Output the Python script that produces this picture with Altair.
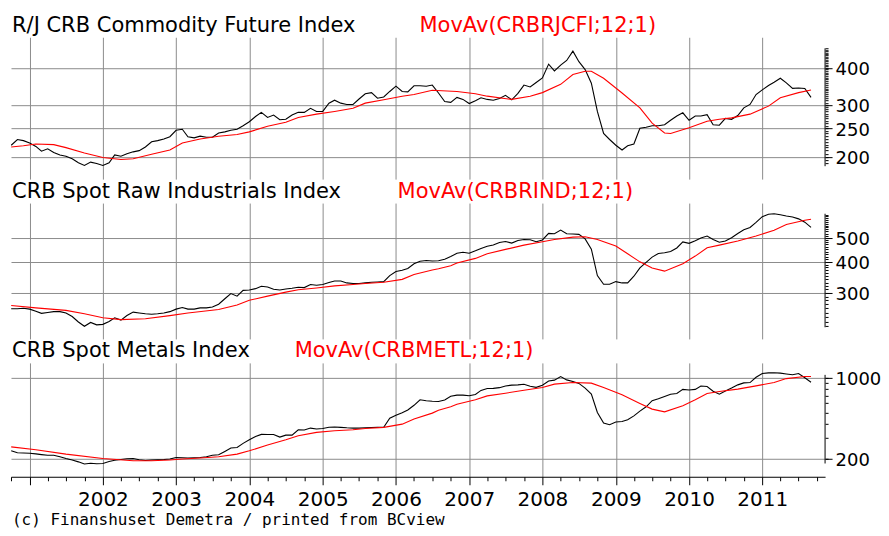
import altair as alt
import pandas as pd

# ---------------- data (monthly, first point Oct 2000) ----------------
START = "2000-10-01"
N_MONTHS = 132

rj_vals = [219, 229, 227, 223, 217, 209, 213, 207, 203, 201,
           197, 191, 187, 192, 190, 187, 191, 203, 201, 205,
           208, 210, 216, 225, 227, 230, 234, 246, 248, 234,
           232, 235, 233, 233, 241, 243, 246, 248, 255, 263,
           274, 283, 272, 277, 267, 268, 277, 283, 283, 292,
           285, 285, 304, 311, 304, 301, 301, 314, 327, 330,
           316, 319, 333, 347, 333, 332, 348, 348, 347, 350,
           329, 308, 306, 318, 313, 303, 310, 317, 313, 311,
           315, 323, 312, 328, 350, 345, 357, 370, 412, 391,
           409, 424, 456, 420, 395, 355, 285, 240, 229, 219,
           211, 218, 221, 250, 252, 255, 255, 257, 266, 275,
           282, 266, 275, 275, 278, 257, 256, 270, 268, 276,
           293, 301, 325, 337, 349, 358, 369, 356, 341, 342, 341, 318]
rj_ma_idx = [0, 2, 4, 7, 9, 12, 15, 18, 20, 23, 26, 28, 31, 34, 37, 39, 42, 45, 47, 50,
             53, 56, 58, 61, 64, 66, 69, 73, 76, 78, 82, 85, 87, 90, 92, 94, 95, 97, 100,
             103, 105, 107, 108, 111, 114, 116, 118, 121, 124, 126, 129, 131]
rj_ma_vals = [216, 218, 221, 220, 215, 206, 199, 196, 197, 204, 211, 223, 230, 235, 238, 243,
              254, 262, 272, 279, 285, 292, 304, 312, 321, 325, 336, 333, 327, 321, 313, 321,
              330, 352, 380, 390, 390, 369, 329, 293, 260, 241, 240, 251, 264, 268, 271, 279,
              297, 317, 330, 337]

ind_vals = [259, 259, 260, 258, 253, 248, 250, 252, 252, 249,
            241, 229, 220, 228, 223, 224, 230, 238, 233, 243,
            251, 249, 247, 246, 247, 249, 252, 258, 262, 258,
            258, 261, 261, 263, 270, 284, 298, 291, 307, 308,
            312, 319, 317, 310, 308, 311, 313, 316, 315, 324,
            322, 324, 330, 335, 335, 329, 327, 327, 329, 331,
            332, 333, 352, 366, 370, 376, 393, 402, 405, 403,
            404, 410, 420, 433, 437, 433, 443, 453, 462, 468,
            479, 483, 476, 488, 492, 491, 482, 490, 521, 519,
            537, 519, 518, 516, 495, 450, 352, 325, 325, 333,
            329, 329, 350, 378, 398, 418, 432, 435, 440, 455,
            481, 475, 486, 499, 508, 492, 480, 485, 500, 520,
            539, 550, 577, 608, 622, 625, 619, 612, 606, 596, 578, 551]
ind_ma_idx = [0, 4, 9, 12, 15, 18, 22, 26, 29, 34, 37, 39, 42, 45, 47, 50, 53, 56, 58, 61,
              64, 66, 69, 70, 72, 73, 76, 78, 81, 84, 87, 89, 92, 94, 96, 99, 101, 103, 105,
              107, 110, 112, 114, 116, 119, 122, 125, 127, 130, 131]
ind_ma_vals = [267, 261, 255, 247, 238, 234, 236, 243, 249, 257, 268, 280, 291, 302, 309, 314,
               320, 324, 327, 331, 340, 356, 371, 375, 386, 396, 413, 431, 449, 467, 482, 492,
               503, 505, 492, 463, 431, 400, 378, 367, 393, 422, 456, 467, 485, 508, 536, 566,
               588, 594]

met_vals = [233, 224, 223, 222, 219, 216, 213, 213, 207, 200,
            194, 187, 179, 182, 180, 181, 188, 193, 196, 199,
            200, 195, 192, 194, 195, 196, 198, 204, 203, 202,
            203, 204, 207, 213, 215, 230, 246, 249, 270, 290,
            310, 323, 322, 322, 306, 318, 318, 354, 352, 366,
            360, 363, 372, 374, 371, 368, 366, 366, 368, 370,
            371, 372, 445, 472, 497, 525, 576, 643, 630, 624,
            622, 641, 690, 705, 705, 696, 715, 775, 805, 807,
            818, 845, 860, 864, 875, 840, 823, 858, 935, 950,
            1020, 955, 926, 890, 810, 720, 500, 405, 391, 413,
            417, 432, 467, 513, 559, 632, 655, 686, 718, 728,
            790, 780, 790, 845, 838, 763, 719, 765, 812, 865,
            900, 905, 1005, 1085, 1098, 1102, 1093, 1075, 1058, 1083, 995, 912]
met_ma_idx = [0, 4, 9, 15, 20, 23, 26, 28, 31, 34, 37, 39, 42, 45, 47, 50, 53, 56, 58, 61,
              64, 66, 69, 70, 72, 73, 76, 78, 81, 84, 87, 89, 92, 95, 97, 100, 103, 105, 107,
              110, 112, 114, 116, 119, 122, 125, 127, 130, 131]
met_ma_vals = [252, 238, 218, 200, 191, 191, 194, 198, 202, 207, 218, 233, 261, 290, 314, 336,
               347, 354, 363, 371, 396, 438, 493, 523, 559, 589, 642, 695, 733, 778, 820, 877,
               906, 895, 820, 709, 597, 534, 506, 570, 642, 728, 757, 794, 848, 906, 980, 1020,
               1020]

titles_black = ["R/J CRB Commodity Future Index", "CRB Spot Raw Industrials Index", "CRB Spot Metals Index"]
titles_red = ["MovAv(CRBRJCFI;12;1)", "MovAv(CRBRIND;12;1)", "MovAv(CRBMETL;12;1)"]
footer = "(c) Finanshuset Demetra  / printed from BCview"

# ---------------- layout ----------------
W = 815
FONT = "DejaVu Sans"
GRID = "#8c8c8c"
months = pd.date_range(START, periods=N_MONTHS, freq="MS")


def dt(y, m=1, d=1):
    return alt.DateTime(year=y, month=m, date=d)


x_scale = alt.Scale(domain=[dt(2000, 9, 30), dt(2011, 11, 10)], nice=False)
year_vals = [dt(y) for y in range(2001, 2012)]
quarter_vals = [dt(2000, 10)] + [dt(y, m) for y in range(2001, 2012) for m in (4, 7, 10)]


def panel(vals, ma_idx, ma_vals, ydom, H, minor_vals, major_vals, ext, tb, tr, red_x, bottom=False):
    df = pd.DataFrame({"date": months, "value": vals})
    dm = pd.DataFrame({"date": months[ma_idx], "value": ma_vals})
    ys = alt.Scale(type="log", domain=ydom, nice=False)
    y_major = alt.Axis(
        orient="right", values=major_vals, title=None, domain=False,
        grid=True, gridColor=GRID, tickColor="black", tickSize=7, format="d",
        labelFont=FONT, labelFontSize=18, labelColor="black", labelPadding=3,
        labelOverlap=False, labelOffset=2,
    )
    y_minor = alt.Axis(
        orient="right", values=minor_vals, title=None, domain=False, grid=False,
        labels=False, tickColor="black", tickSize=3,
    )
    if bottom:
        x_major = alt.Axis(
            orient="bottom", values=year_vals, title=None, grid=True, gridColor=GRID,
            domain=True, domainColor="black", tickColor="black", tickSize=8,
            labelExpr="year(datum.value) >= 2002 ? timeFormat(datum.value, '%Y') : ''",
            labelFont=FONT, labelFontSize=20, labelColor="black", labelPadding=5,
            labelOverlap=False, labelFlush=False,
        )
        x_minor = alt.Axis(
            orient="bottom", values=quarter_vals, title=None, grid=False,
            domain=False, labels=False, tickColor="black", tickSize=4,
        )
    else:
        x_major = alt.Axis(orient="bottom", values=year_vals, title=None, grid=True,
                           gridColor=GRID, labels=False, ticks=False, domain=False)
        x_minor = None

    black = alt.Chart(df).mark_line(color="black", strokeWidth=1.1).encode(
        x=alt.X("date:T", scale=x_scale, axis=x_major),
        y=alt.Y("value:Q", scale=ys, axis=y_major),
    )
    red = alt.Chart(dm).mark_line(color="#ff0000", strokeWidth=1.1).encode(
        x=alt.X("date:T", scale=x_scale, axis=x_minor),
        y=alt.Y("value:Q", scale=ys, axis=y_minor),
    )
    axis_line = alt.Chart(pd.DataFrame({"lo": [ext[0]], "hi": [ext[1]]})).mark_rule(
        color="black", strokeWidth=1
    ).encode(x=alt.value(W), y=alt.Y("lo:Q", scale=ys, axis=None), y2="hi:Q")
    t1 = alt.Chart(pd.DataFrame({"t": [tb]})).mark_text(
        align="left", baseline="alphabetic", font=FONT, fontSize=21, color="black"
    ).encode(x=alt.value(1), y=alt.value(-5.5), text="t:N")
    t2 = alt.Chart(pd.DataFrame({"t": [tr]})).mark_text(
        align="left", baseline="alphabetic", font=FONT, fontSize=21, color="#ff0000"
    ).encode(x=alt.value(red_x), y=alt.value(-5.5), text="t:N")
    layers = [black, red, axis_line, t1, t2]
    if bottom:
        f = alt.Chart(pd.DataFrame({"t": [footer]})).mark_text(
            align="left", baseline="alphabetic", font="DejaVu Sans Mono", fontSize=16,
            color="black"
        ).encode(x=alt.value(1), y=alt.value(H + 48), text="t:N")
        layers.append(f)
    return alt.layer(*layers).resolve_axis(x="independent", y="independent").properties(
        width=W, height=H
    )


p1 = panel(rj_vals, rj_ma_idx, rj_ma_vals, [168.2, 508], 142,
           list(range(190, 466, 5)), [200, 250, 300, 400], [186, 466],
           titles_black[0], titles_red[0], 409)
p2 = panel(ind_vals, ind_ma_idx, ind_ma_vals, [195.7, 690], 136,
           list(range(220, 621, 10)), [300, 400, 500], [218, 625],
           titles_black[1], titles_red[1], 387)
p3 = panel(met_vals, met_ma_idx, met_ma_vals, [139, 1339], 114,
           list(range(200, 1001, 100)), [200, 1000], [181, 1055],
           titles_black[2], titles_red[2], 284, bottom=True)

chart = alt.vconcat(p1, p2, p3, spacing=24, bounds="flush").configure_view(
    stroke=None
).properties(padding={"left": 1, "top": 6, "right": 0, "bottom": 0})

chart.save("out.html", embed_options={"renderer": "svg", "actions": False})
